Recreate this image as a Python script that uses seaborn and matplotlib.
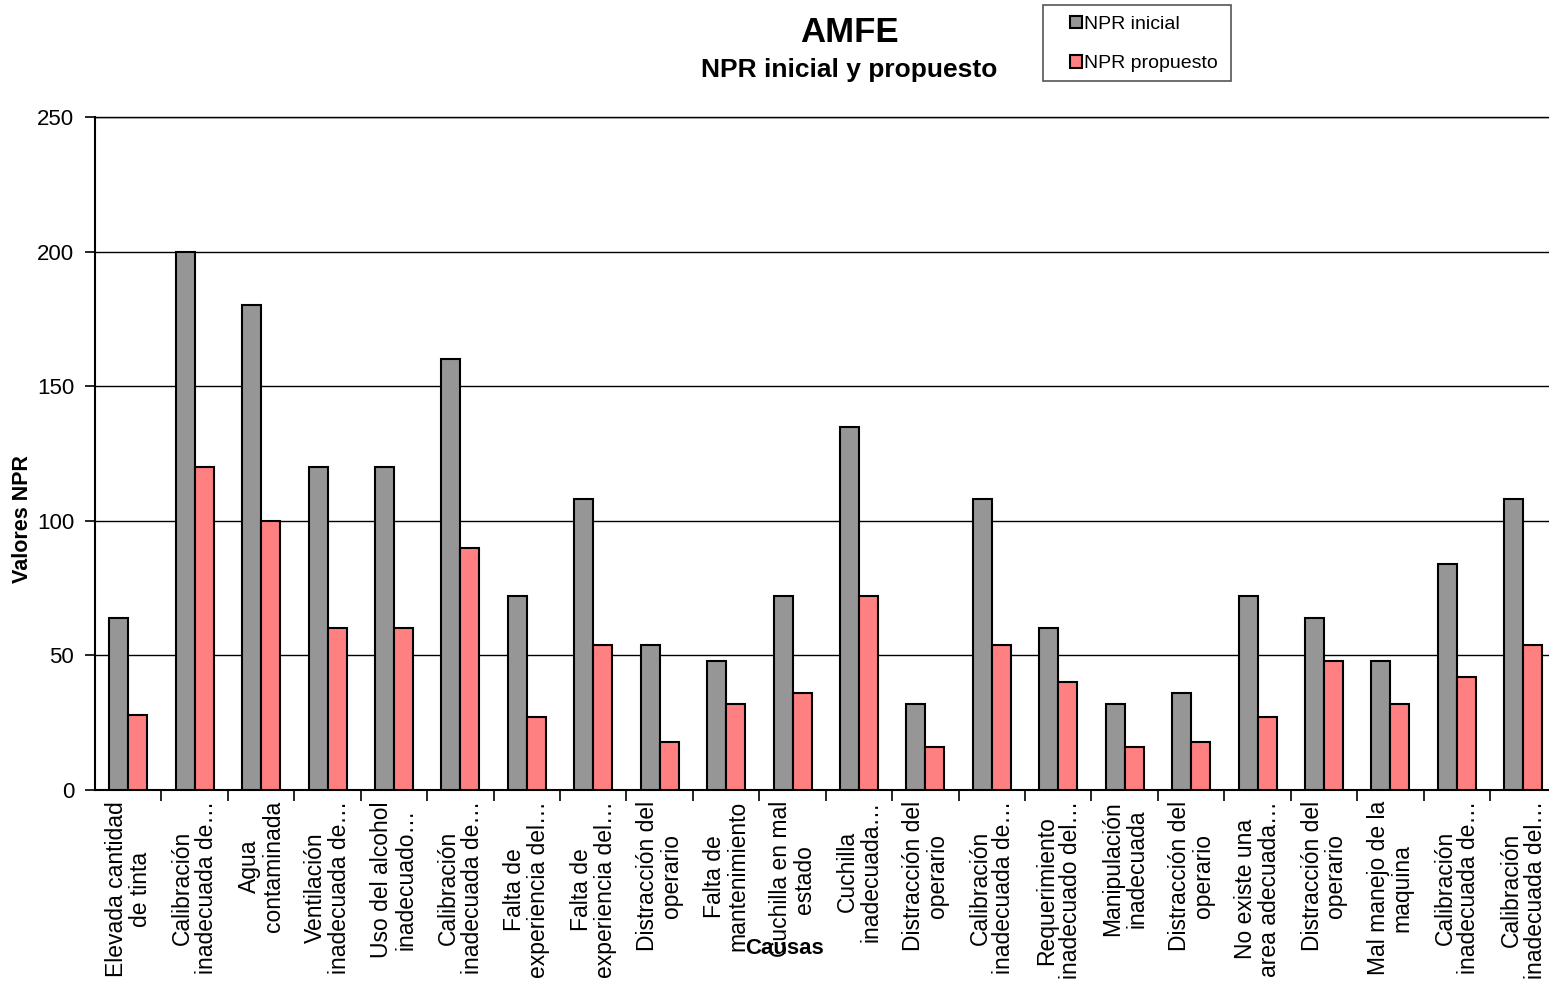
import matplotlib
matplotlib.use("Agg")
import matplotlib.pyplot as plt
from matplotlib.patches import Rectangle
import seaborn as sns
import pandas as pd
import numpy as np

causas = [
    "Elevada cantidad\nde tinta",
    "Calibración\ninadecuada de…",
    "Agua\ncontaminada",
    "Ventilación\ninadecuada de…",
    "Uso del alcohol\ninadecuado…",
    "Calibración\ninadecuada de…",
    "Falta de\nexperiencia del…",
    "Falta de\nexperiencia del…",
    "Distracción del\noperario",
    "Falta de\nmantenimiento",
    "Cuchilla en mal\nestado",
    "Cuchilla\ninadecuada…",
    "Distracción del\noperario",
    "Calibración\ninadecuada de…",
    "Requerimiento\ninadecuado del…",
    "Manipulación\ninadecuada",
    "Distracción del\noperario",
    "No existe una\narea adecuada…",
    "Distracción del\noperario",
    "Mal manejo de la\nmaquina",
    "Calibración\ninadecuada de…",
    "Calibración\ninadecuada del…",
]
npr_inicial = [64, 200, 180, 120, 120, 160, 72, 108, 54, 48, 72, 135, 32, 108, 60, 32, 36, 72, 64, 48, 84, 108]
npr_propuesto = [28, 120, 100, 60, 60, 90, 27, 54, 18, 32, 36, 72, 16, 54, 40, 16, 18, 27, 48, 32, 42, 54]
series = ["NPR inicial", "NPR propuesto"]
colores = ["#969696", "#FF8080"]

n = len(causas)
df = pd.DataFrame({
    "idx": list(range(n)) * 2,
    "valor": npr_inicial + npr_propuesto,
    "serie": [series[0]] * n + [series[1]] * n,
})

sns.set_theme(style="white")
plt.rcParams["font.family"] = ["Liberation Sans", "DejaVu Sans"]
plt.rcParams["text.color"] = "black"
plt.rcParams["axes.labelcolor"] = "black"
plt.rcParams["xtick.color"] = "black"
plt.rcParams["ytick.color"] = "black"

W, H = 1549, 983
fig = plt.figure(figsize=(W / 100, H / 100), dpi=100)
ax = fig.add_axes([95 / W, 193 / H, 1461.5 / W, 673 / H])

sns.barplot(data=df, x="idx", y="valor", hue="serie", palette=colores,
            width=0.572, edgecolor="black", linewidth=1.5, saturation=1,
            ax=ax, legend=True, zorder=3)

ax.set_xlim(-0.5, n - 0.5)
ax.set_ylim(0, 250)
ax.set_yticks([0, 50, 100, 150, 200, 250])
ax.yaxis.grid(True, color="black", linewidth=1.0, zorder=0)
ax.xaxis.grid(False)
ax.set_axisbelow(True)

for s in ["left", "bottom", "top"]:
    ax.spines[s].set_visible(True)
    ax.spines[s].set_color("black")
    ax.spines[s].set_linewidth(1.5)
ax.spines["top"].set_linewidth(1.0)
ax.spines["right"].set_visible(False)

ax.tick_params(axis="y", which="major", left=True, length=7, width=1.2,
               color="black", labelsize=16, pad=8)
ax.set_xticks(range(n))
ax.set_xticklabels(causas, rotation=90, fontsize=16.5, va="top", ha="center",
                   multialignment="center", linespacing=1.05)
ax.tick_params(axis="x", which="major", length=0, pad=8)
ax.set_xticks(np.arange(0.5, n, 1.0), minor=True)
ax.tick_params(axis="x", which="minor", bottom=True, length=8, width=1.2, color="black")

ax.set_xlabel("")
ax.set_ylabel("Valores NPR", fontsize=15.5, fontweight="bold")
ax.yaxis.set_label_coords((33 - 95) / 1461.5, (790 - 519) / 673)
fig.text(785 / W, 1 - 948 / H, "Causas", fontsize=16, fontweight="bold",
         ha="center", va="center")

fig.text(849 / W, 1 - 33 / H, "AMFE", fontsize=25, fontweight="bold",
         ha="center", va="center")
fig.text(849 / W, 1 - 70 / H, "NPR inicial y propuesto", fontsize=19,
         fontweight="bold", ha="center", va="center")

# legend box and entries
fig.patches.append(Rectangle((1043 / W, 1 - 81 / H), 188 / W, 76 / H,
                             transform=fig.transFigure, facecolor="white",
                             edgecolor="#555555", linewidth=1.2, zorder=5))
handles, labels = ax.get_legend_handles_labels()
ax.get_legend().remove()
leg = fig.legend(handles, labels, loc="upper left",
                 bbox_to_anchor=(1066 / W, 1 - 12 / H),
                 fontsize=14, frameon=False,
                 handlelength=0.6, handleheight=0.6, handletextpad=0.15,
                 labelspacing=1.15, borderpad=0.2, borderaxespad=0)
leg.set_zorder(6)
for h in leg.legend_handles:
    h.set_edgecolor("black")
    h.set_linewidth(1.5)

fig.savefig("out.png", dpi=100)
